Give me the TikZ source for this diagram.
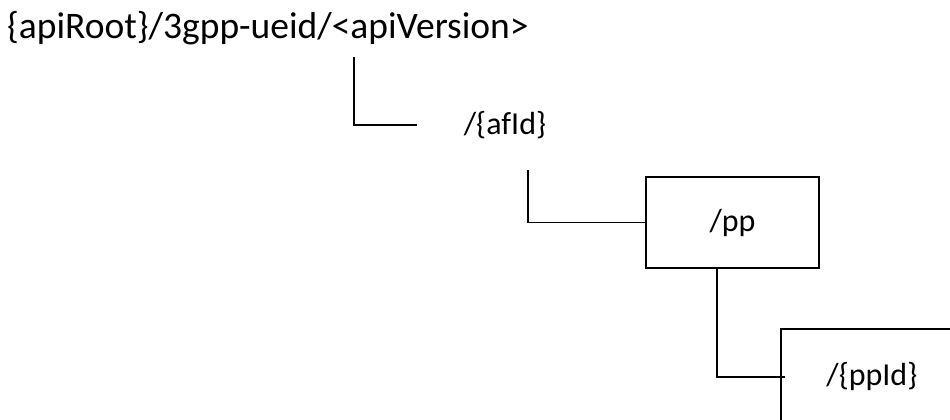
\documentclass[tikz,border=0pt]{standalone}
\usepackage{fontspec}
\setmainfont{Carlito}
\usetikzlibrary{positioning}

\begin{document}
\begin{tikzpicture}[x=1pt, y=-1pt, every node/.style={font=\fontsize{32}{38}\selectfont, inner sep=0pt}, res/.style={rectangle, draw, line width=1.8pt}, link/.style={line width=1.5pt}]
    \useasboundingbox (0,0) rectangle (950,420);
    % Resource nodes
    \node[anchor=base west, font=\fontsize{37.5}{44}\selectfont](root) at (7,39){\{apiRoot\}/3gpp-ueid/<apiVersion>};
    \node(afid) at (505,125){/\{afId\}};
    \node[res, minimum width=173pt, minimum height=91pt](pp) at (732.5,222.5){/pp};
    \node[res, anchor=north west, minimum width=182pt, minimum height=96pt](ppid) at (780,328){/\{ppId\}};
    % Tree connections
    \coordinate (r1) at (354,57);
    \coordinate (a1) at (528,170);
    \draw[link] (r1) |- ([xshift=-47pt]afid.west);
    \draw[link] (a1) |- (pp.west);
    \draw[link] ([xshift=-15.5pt]pp.south) |- ([xshift=5pt]ppid.west);
\end{tikzpicture}
\end{document}
